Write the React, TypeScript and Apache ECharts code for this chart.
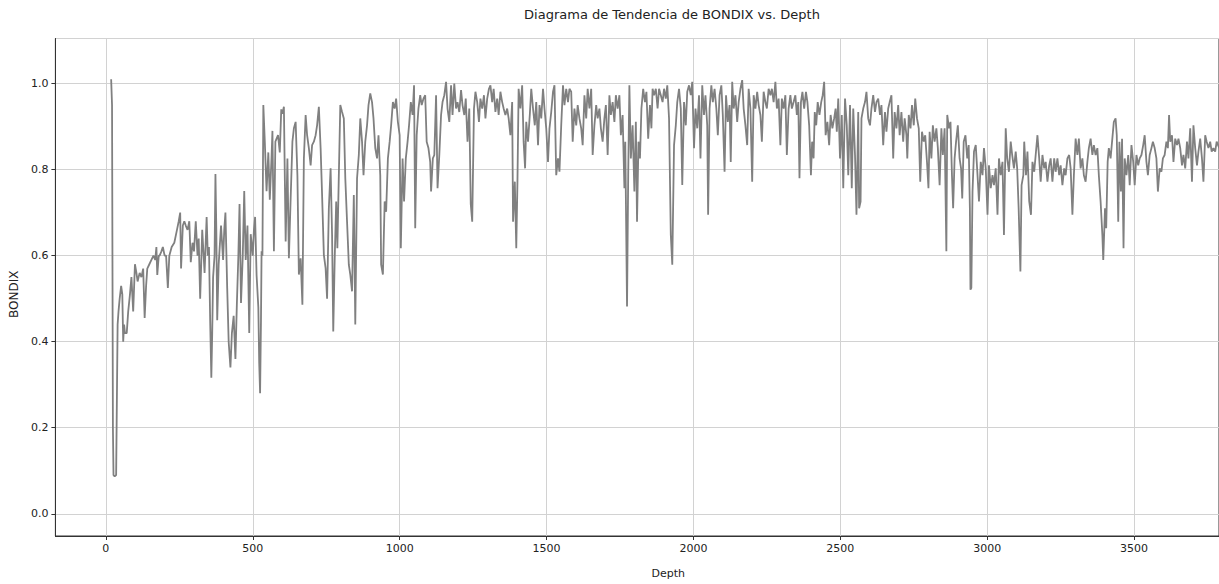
import React, { useEffect, useRef } from "react";
import * as echarts from "echarts";

const chartTitle = "Diagrama de Tendencia de BONDIX vs. Depth";
const xAxisTitle = "Depth";
const yAxisTitle = "BONDIX";

// [Depth, BONDIX] readings in depth order
const bondixTop: [number, number][] = [
  [18, 1.01], [21, 0.95], [24, 0.2], [26, 0.09], [30, 0.087], [35, 0.09], [38, 0.3], [40, 0.44], [43, 0.47], [47, 0.5],
  [52, 0.53], [56, 0.51], [59, 0.4], [62, 0.44], [65, 0.42], [71, 0.42], [76, 0.47], [82, 0.51], [87, 0.55], [93, 0.47],
  [99, 0.58], [104, 0.56], [108, 0.54], [115, 0.56], [121, 0.55], [127, 0.57], [132, 0.455], [137, 0.53], [141, 0.57],
  [148, 0.58], [155, 0.59], [162, 0.6], [168, 0.59], [172, 0.62], [175, 0.555], [180, 0.6], [183, 0.6], [189, 0.61],
  [194, 0.62], [200, 0.6], [205, 0.6], [211, 0.525], [216, 0.6], [224, 0.62], [233, 0.63], [242, 0.66], [248, 0.68],
  [253, 0.7], [256, 0.57], [262, 0.67], [267, 0.68], [272, 0.67], [278, 0.66], [284, 0.68], [289, 0.585], [295, 0.63],
  [300, 0.61], [306, 0.68], [312, 0.6], [316, 0.64], [321, 0.5], [328, 0.66], [336, 0.56], [343, 0.69], [347, 0.6],
  [351, 0.62], [355, 0.45], [359, 0.316], [362, 0.42], [365, 0.55], [370, 0.6], [373, 0.79], [376, 0.66], [379, 0.45],
  [384, 0.58], [392, 0.67], [399, 0.59], [403, 0.66], [407, 0.7], [413, 0.525], [418, 0.4], [424, 0.34], [429, 0.42],
  [435, 0.46], [441, 0.36], [446, 0.49], [451, 0.6], [455, 0.72], [460, 0.49], [466, 0.6], [471, 0.75], [476, 0.59],
  [482, 0.67], [488, 0.42], [493, 0.65], [500, 0.6], [504, 0.66], [508, 0.69], [513, 0.555], [519, 0.48], [522, 0.35],
  [525, 0.28], [528, 0.45], [530, 0.61], [533, 0.6], [536, 0.95], [541, 0.865], [547, 0.75], [553, 0.84], [558, 0.73],
  [564, 0.83], [567, 0.89], [572, 0.61], [577, 0.865], [586, 0.88], [592, 0.84], [597, 0.94], [601, 0.93],
];

const bondixUpperMiddle: [number, number][] = [
  [606, 0.946], [612, 0.633], [618, 0.826], [623, 0.594], [629, 0.733], [635, 0.865], [640, 0.896], [646, 0.911],
  [652, 0.787], [657, 0.556], [663, 0.594], [669, 0.486], [674, 0.826], [680, 0.927], [685, 0.88], [691, 0.85],
  [697, 0.81], [702, 0.857], [708, 0.865], [714, 0.88], [719, 0.903], [725, 0.946], [731, 0.85], [736, 0.741],
  [742, 0.602], [748, 0.571], [753, 0.5], [759, 0.71], [765, 0.803], [770, 0.648], [774, 0.424], [779, 0.594],
  [784, 0.726], [788, 0.617], [793, 0.787], [798, 0.95], [804, 0.934], [810, 0.919], [815, 0.78], [821, 0.679],
  [827, 0.579], [832, 0.556], [838, 0.517], [844, 0.741], [849, 0.44], [855, 0.78], [861, 0.834], [866, 0.919],
  [872, 0.865], [877, 0.787], [883, 0.865], [889, 0.903], [894, 0.95], [900, 0.977], [906, 0.957], [911, 0.919],
  [917, 0.85], [923, 0.826], [928, 0.88], [934, 0.787], [937, 0.579], [943, 0.556], [949, 0.726], [954, 0.702],
  [960, 0.826], [966, 0.865], [971, 0.903], [977, 0.957], [983, 0.942], [988, 0.965], [994, 0.911], [1000, 0.88],
  [1004, 0.617], [1010, 0.826], [1015, 0.726], [1021, 0.826], [1027, 0.865], [1032, 0.903], [1038, 0.957],
  [1044, 0.927], [1049, 0.996], [1053, 0.664], [1058, 0.88], [1064, 0.942], [1070, 0.973], [1075, 0.95],
  [1081, 0.965], [1087, 0.973], [1092, 0.865], [1098, 0.85], [1104, 0.818], [1107, 0.749], [1113, 0.826],
  [1118, 0.834], [1124, 0.973], [1129, 0.757], [1135, 0.834], [1141, 0.927], [1146, 0.957], [1152, 0.973],
  [1158, 1.004], [1163, 0.942], [1169, 0.911], [1175, 0.996], [1180, 0.927], [1186, 1.0], [1192, 0.942],
  [1197, 0.957], [1203, 0.934], [1209, 0.985], [1214, 0.95], [1220, 0.927], [1225, 0.965], [1231, 0.865],
];

const bondixMiddle: [number, number][] = [
  [1237, 0.942], [1242, 0.72], [1247, 0.679], [1253, 0.942], [1258, 0.981], [1264, 0.957], [1270, 0.911],
  [1275, 0.965], [1281, 0.942], [1287, 0.973], [1292, 0.919], [1298, 0.965], [1304, 0.988], [1309, 0.996],
  [1315, 0.957], [1320, 0.988], [1326, 0.934], [1332, 0.965], [1337, 0.927], [1343, 0.981], [1349, 0.957],
  [1354, 0.942], [1360, 0.927], [1366, 0.942], [1371, 0.919], [1377, 0.88], [1383, 0.957], [1386, 0.679],
  [1392, 0.772], [1397, 0.617], [1401, 0.772], [1405, 0.988], [1411, 0.942], [1417, 0.996], [1422, 0.865],
  [1427, 0.803], [1431, 0.911], [1437, 0.865], [1443, 0.927], [1448, 0.988], [1454, 0.942], [1460, 0.903],
  [1465, 0.957], [1471, 0.857], [1476, 0.95], [1482, 0.919], [1488, 0.988], [1493, 0.942], [1499, 0.896],
  [1505, 0.818], [1510, 0.896], [1516, 0.934], [1522, 0.981], [1527, 0.996], [1533, 0.787], [1539, 0.826],
  [1544, 0.795], [1550, 0.903], [1556, 0.996], [1561, 0.95], [1567, 0.988], [1573, 0.957], [1578, 0.988],
  [1584, 0.981], [1589, 0.865], [1595, 0.942], [1601, 0.903], [1606, 0.95], [1612, 0.919], [1618, 0.896],
  [1623, 0.857], [1629, 0.973], [1635, 0.919], [1640, 0.988], [1646, 0.942], [1652, 0.988], [1657, 0.834],
  [1663, 0.903], [1669, 0.95], [1674, 0.919], [1680, 0.942], [1685, 0.896], [1691, 0.865], [1697, 0.919],
  [1702, 0.95], [1708, 0.834], [1714, 0.973], [1719, 0.927], [1725, 0.957], [1731, 0.911], [1736, 0.973],
  [1742, 0.942], [1748, 0.973], [1753, 0.88], [1759, 0.927], [1765, 0.757], [1768, 0.865], [1774, 0.482],
  [1778, 0.787], [1782, 0.996], [1787, 0.826], [1793, 0.903], [1799, 0.749], [1804, 0.911], [1808, 0.679],
  [1813, 0.865], [1818, 0.826], [1823, 0.942], [1829, 0.988], [1835, 0.957], [1840, 0.981], [1846, 0.872],
  [1852, 0.95], [1857, 0.896],
];

const bondixLowerMiddle: [number, number][] = [
  [1861, 0.988], [1866, 0.973], [1872, 0.988], [1878, 0.942], [1883, 0.988], [1889, 0.973], [1895, 0.957],
  [1900, 0.988], [1906, 0.965], [1911, 0.996], [1917, 0.919], [1923, 0.648], [1928, 0.579], [1934, 0.857],
  [1940, 0.903], [1945, 0.957], [1951, 0.988], [1957, 0.942], [1962, 0.764], [1968, 0.957], [1974, 0.903],
  [1979, 0.981], [1985, 0.996], [1991, 0.973], [1996, 1.004], [2002, 0.85], [2007, 0.942], [2013, 0.896],
  [2019, 0.973], [2024, 0.826], [2030, 0.996], [2036, 0.927], [2041, 0.973], [2047, 0.903], [2050, 0.695],
  [2055, 0.942], [2061, 0.996], [2066, 0.957], [2072, 0.988], [2078, 0.942], [2083, 0.88], [2089, 0.973],
  [2095, 0.996], [2100, 0.927], [2106, 0.795], [2111, 0.973], [2117, 0.911], [2123, 0.95], [2127, 0.818],
  [2132, 1.004], [2137, 0.942], [2143, 0.973], [2149, 0.911], [2154, 0.957], [2160, 0.988], [2166, 1.008],
  [2171, 0.942], [2177, 0.903], [2183, 0.857], [2188, 0.988], [2194, 0.942], [2200, 0.772], [2205, 0.973],
  [2211, 0.942], [2217, 0.981], [2222, 0.95], [2228, 0.927], [2233, 0.865], [2239, 0.981], [2245, 0.957],
  [2250, 0.942], [2256, 0.988], [2262, 0.973], [2267, 0.988], [2273, 0.957], [2279, 1.004], [2284, 0.942],
  [2290, 0.965], [2296, 0.857], [2301, 0.965], [2307, 0.942], [2313, 0.973], [2318, 0.834], [2324, 0.942],
  [2330, 0.973], [2335, 0.942], [2341, 0.957], [2347, 0.973], [2352, 0.927], [2357, 0.957], [2361, 0.78],
  [2366, 0.957], [2371, 0.981], [2377, 0.942], [2383, 0.981], [2388, 0.957], [2394, 0.903], [2400, 0.787],
  [2404, 0.865], [2409, 0.826], [2413, 0.934], [2418, 0.903], [2423, 0.957], [2429, 0.927], [2435, 0.957],
  [2440, 0.973], [2445, 1.004], [2450, 0.88], [2456, 0.911], [2462, 0.857], [2467, 0.927], [2473, 0.896],
  [2479, 0.919],
];

const bondixLower: [number, number][] = [
  [2484, 0.942], [2488, 0.888], [2493, 0.965], [2499, 0.826], [2505, 0.927], [2510, 0.757], [2516, 0.965],
  [2522, 0.903], [2527, 0.787], [2533, 0.95], [2539, 0.757], [2544, 0.942], [2550, 0.834], [2555, 0.695],
  [2561, 0.934], [2564, 0.71], [2569, 0.726], [2572, 0.919], [2578, 0.942], [2584, 0.957], [2589, 0.981],
  [2595, 0.919], [2601, 0.903], [2606, 0.942], [2612, 0.973], [2618, 0.934], [2623, 0.957], [2629, 0.965],
  [2635, 0.927], [2640, 0.95], [2646, 0.857], [2652, 0.934], [2657, 0.888], [2663, 0.942], [2668, 0.957],
  [2674, 0.973], [2680, 0.826], [2685, 0.934], [2691, 0.896], [2697, 0.95], [2702, 0.88], [2708, 0.934],
  [2714, 0.865], [2719, 0.919], [2725, 0.88], [2728, 0.826], [2733, 0.927], [2739, 0.896], [2744, 0.95],
  [2750, 0.903], [2755, 0.965], [2761, 0.919], [2767, 0.896], [2772, 0.772], [2778, 0.888], [2784, 0.865],
  [2789, 0.88], [2795, 0.818], [2800, 0.757], [2804, 0.888], [2810, 0.826], [2815, 0.903], [2821, 0.865],
  [2827, 0.896], [2832, 0.85], [2838, 0.764], [2844, 0.896], [2849, 0.834], [2855, 0.896], [2861, 0.61],
  [2864, 0.927], [2870, 0.896], [2875, 0.911], [2880, 0.787], [2884, 0.71], [2889, 0.826], [2894, 0.865],
  [2900, 0.903], [2906, 0.826], [2911, 0.803], [2915, 0.733], [2920, 0.865], [2926, 0.88], [2932, 0.826],
  [2937, 0.857], [2941, 0.71], [2943, 0.521], [2946, 0.525], [2950, 0.749], [2955, 0.842], [2961, 0.857],
  [2967, 0.787], [2972, 0.726], [2978, 0.818], [2984, 0.787], [2989, 0.85], [2995, 0.803], [3001, 0.695],
  [3006, 0.81], [3012, 0.757], [3018, 0.787], [3023, 0.764], [3029, 0.803], [3035, 0.695], [3040, 0.826],
  [3046, 0.787], [3052, 0.818], [3057, 0.648], [3063, 0.896], [3068, 0.826], [3074, 0.795], [3080, 0.865],
  [3085, 0.834], [3091, 0.803], [3097, 0.842], [3102, 0.803], [3107, 0.71], [3113, 0.563], [3117, 0.764],
  [3123, 0.787],
];

const bondixBottom: [number, number][] = [
  [3126, 0.865], [3132, 0.787], [3137, 0.842], [3143, 0.726], [3149, 0.695], [3154, 0.818], [3160, 0.795],
  [3165, 0.834], [3171, 0.88], [3177, 0.826], [3182, 0.772], [3188, 0.834], [3194, 0.803], [3199, 0.818],
  [3205, 0.772], [3211, 0.81], [3216, 0.826], [3222, 0.772], [3228, 0.826], [3233, 0.795], [3239, 0.826],
  [3245, 0.787], [3250, 0.81], [3256, 0.764], [3262, 0.803], [3267, 0.787], [3273, 0.826], [3279, 0.834],
  [3284, 0.803], [3290, 0.695], [3295, 0.787], [3301, 0.872], [3307, 0.834], [3312, 0.872], [3318, 0.803],
  [3324, 0.826], [3329, 0.787], [3335, 0.772], [3341, 0.818], [3346, 0.85], [3352, 0.872], [3358, 0.834],
  [3363, 0.857], [3369, 0.834], [3375, 0.85], [3380, 0.787], [3386, 0.726], [3392, 0.648], [3395, 0.59],
  [3401, 0.71], [3405, 0.664], [3410, 0.818], [3414, 0.85], [3420, 0.826], [3425, 0.865], [3431, 0.911],
  [3437, 0.919], [3441, 0.88], [3446, 0.679], [3450, 0.865], [3455, 0.749], [3459, 0.872], [3464, 0.617],
  [3468, 0.826], [3474, 0.787], [3480, 0.834], [3485, 0.764], [3491, 0.857], [3497, 0.818], [3502, 0.764],
  [3508, 0.834], [3514, 0.81], [3519, 0.826], [3525, 0.834], [3531, 0.857], [3536, 0.88], [3542, 0.818],
  [3547, 0.787], [3553, 0.834], [3559, 0.85], [3564, 0.865], [3570, 0.85], [3576, 0.826], [3581, 0.749],
  [3587, 0.803], [3593, 0.795], [3598, 0.826], [3604, 0.834], [3610, 0.865], [3615, 0.85], [3619, 0.927],
  [3623, 0.865], [3629, 0.88], [3634, 0.818], [3640, 0.872], [3646, 0.857], [3651, 0.872], [3657, 0.85],
  [3663, 0.81], [3668, 0.834], [3674, 0.803], [3680, 0.865], [3685, 0.826], [3691, 0.896], [3697, 0.772],
  [3702, 0.903], [3708, 0.85], [3714, 0.81], [3719, 0.842], [3725, 0.872], [3731, 0.826], [3736, 0.772],
  [3742, 0.88], [3747, 0.865], [3753, 0.85], [3759, 0.865], [3764, 0.842], [3770, 0.85], [3776, 0.842],
  [3781, 0.865], [3790, 0.85],
];

const FONT = "'DejaVu Sans', sans-serif";
const TEXT = "#222";

export default function App() {
  const ref = useRef<HTMLDivElement>(null);

  useEffect(() => {
    if (!ref.current) return;
    const chart = echarts.init(ref.current, null, { renderer: "svg" });
    const data = [
      ...bondixTop,
      ...bondixUpperMiddle,
      ...bondixMiddle,
      ...bondixLowerMiddle,
      ...bondixLower,
      ...bondixBottom,
    ];
    const isMultiple = (v: number, step: number) =>
      Math.abs(v / step - Math.round(v / step)) < 1e-6;

    chart.setOption({
      animation: false,
      backgroundColor: "#fff",
      title: {
        text: chartTitle,
        left: 667,
        top: 3,
        textAlign: "center",
        textStyle: { fontFamily: FONT, fontSize: 13, fontWeight: "normal", color: TEXT },
      },
      grid: {
        left: 52,
        top: 38.5,
        right: -2,
        bottom: 46.7,
        show: true,
        borderColor: "#333",
        borderWidth: 1,
        backgroundColor: "transparent",
      },
      xAxis: {
        type: "value",
        min: -171.8,
        max: 3789,
        splitNumber: 8,
        name: xAxisTitle,
        nameLocation: "middle",
        nameGap: 32,
        nameTextStyle: { fontFamily: FONT, fontSize: 11, color: TEXT, padding: [0, 0, 0, 62] },
        axisLine: { show: true, onZero: false, lineStyle: { color: "#333", width: 1 } },
        axisTick: { show: true, length: 4, lineStyle: { color: "#333" } },
        axisLabel: {
          margin: 7,
          fontFamily: FONT,
          fontSize: 11,
          color: TEXT,
          showMinLabel: false,
          showMaxLabel: false,
          formatter: (v: number) => (isMultiple(v, 500) ? String(Math.round(v)) : ""),
        },
        splitLine: { show: true, lineStyle: { color: "#d2d2d2", width: 1 } },
      },
      yAxis: {
        type: "value",
        min: -0.0517,
        max: 1.1048,
        splitNumber: 6,
        name: yAxisTitle,
        nameLocation: "middle",
        nameGap: 31,
        nameRotate: 90,
        nameTextStyle: { fontFamily: FONT, fontSize: 12, color: TEXT, padding: [0, 14, 0, 0] },
        axisLine: { show: true, onZero: false, lineStyle: { color: "#333", width: 1 } },
        axisTick: { show: true, length: 4, lineStyle: { color: "#333" } },
        axisLabel: {
          margin: 7,
          fontFamily: FONT,
          fontSize: 11,
          color: TEXT,
          showMinLabel: false,
          showMaxLabel: false,
          formatter: (v: number) => (isMultiple(v, 0.2) ? v.toFixed(1) : ""),
        },
        splitLine: { show: true, lineStyle: { color: "#d2d2d2", width: 1 } },
      },
      series: [
        {
          type: "line",
          name: yAxisTitle,
          data,
          showSymbol: false,
          symbol: "none",
          clip: true,
          lineStyle: { color: "#808080", width: 1.8 },
        },
      ],
    });

    return () => chart.dispose();
  }, []);

  return (
    <div
      ref={ref}
      style={{ position: "fixed", left: 0, top: 0, width: 1219, height: 584 }}
    />
  );
}
